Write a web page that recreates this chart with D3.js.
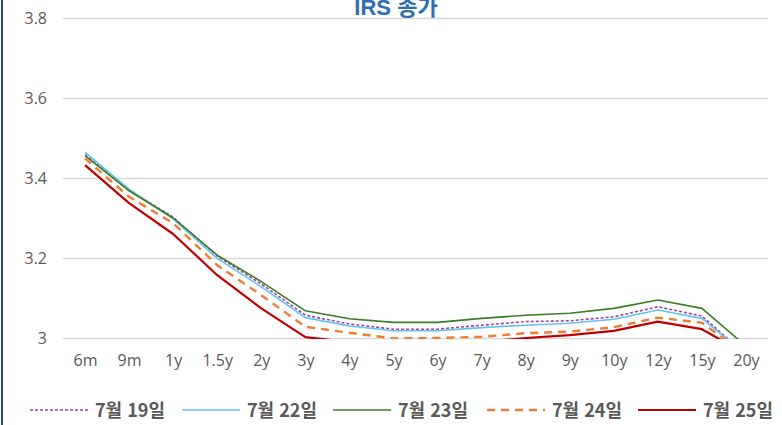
<!DOCTYPE html>
<html lang="ko">
<head>
<meta charset="UTF-8">
<title>IRS 종가</title>
<style>
  body { margin: 0; background: #fff; }
  svg { display: block; }
  .grid line { stroke: #d9d9d9; stroke-width: 1.3; }
  .tick text { fill: #595959; font-family: "Open Sans", "Noto Sans", sans-serif; font-size: 16px; }
  .legend text { fill: #595959; font-family: "Noto Sans CJK KR", sans-serif; font-size: 18px; font-weight: bold; }
  .title { fill: #2e6db4; font-family: "Liberation Sans", "Noto Sans CJK KR", sans-serif; font-size: 22px; font-weight: bold; }
</style>
</head>
<body>
<svg></svg>
<script src="https://d3js.org/d3.v7.min.js"></script>
<script>
var tenors = ["6m", "9m", "1y", "1.5y", "2y", "3y", "4y", "5y", "6y", "7y", "8y", "9y", "10y", "12y", "15y", "20y"];
var yTicks = [3, 3.2, 3.4, 3.6, 3.8];

var jul19 = [3.458, 3.370, 3.302, 3.205, 3.135, 3.057, 3.035, 3.022, 3.022, 3.032, 3.041, 3.043, 3.053, 3.078, 3.055, 2.958];
var jul22 = [3.464, 3.372, 3.298, 3.199, 3.128, 3.051, 3.030, 3.018, 3.018, 3.026, 3.032, 3.037, 3.047, 3.070, 3.049, 2.959];
var jul23 = [3.456, 3.368, 3.300, 3.207, 3.141, 3.068, 3.048, 3.039, 3.039, 3.049, 3.057, 3.062, 3.074, 3.095, 3.074, 2.980];
var jul24 = [3.449, 3.353, 3.287, 3.182, 3.107, 3.028, 3.013, 2.999, 3.000, 3.003, 3.012, 3.016, 3.027, 3.051, 3.038, 2.959];
var jul25 = [3.432, 3.337, 3.260, 3.157, 3.074, 3.002, 2.990, 2.985, 2.985, 2.990, 3.000, 3.007, 3.018, 3.041, 3.022, 2.960];

var series = [
  { name: "7월 19일", values: jul19, color: "#a040a8", width: 1.6, dash: "3,2" },
  { name: "7월 22일", values: jul22, color: "#5ec4f2", width: 1.6, dash: null },
  { name: "7월 23일", values: jul23, color: "#3b7d23", width: 1.6, dash: null },
  { name: "7월 24일", values: jul24, color: "#ed7d31", width: 2.4, dash: "8,6" },
  { name: "7월 25일", values: jul25, color: "#c00000", width: 2.2, dash: null }
];

var width = 782, height = 425;
var svg = d3.select("svg").attr("width", width).attr("height", height);

var plotL = 63, plotR = 768, plotT = 18, plotB = 338;

var x = d3.scalePoint().domain(tenors).range([plotL, plotR]).padding(0.5);
var y = d3.scaleLinear().domain([3, 3.8]).range([plotB, plotT]);

// left border
svg.append("line")
  .attr("x1", 2).attr("x2", 2).attr("y1", 0).attr("y2", height)
  .attr("stroke", "#1f4e79").attr("stroke-width", 2);

// gridlines + y labels
var yAxis = svg.append("g")
  .attr("class", "grid")
  .attr("transform", "translate(" + plotL + ",0)")
  .call(d3.axisLeft(y).tickValues(yTicks).tickSize(-(plotR - plotL)).tickPadding(16)
    .tickFormat(function (d) { return d === 3 ? "3" : d3.format(".1f")(d); }));
yAxis.select(".domain").remove();

// x labels
var xAxis = svg.append("g")
  .attr("transform", "translate(0," + plotB + ")")
  .call(d3.axisBottom(x).tickSize(0).tickPadding(17));
xAxis.select(".domain").remove();

// title
svg.append("text").attr("class", "title")
  .attr("x", 396).attr("y", 15).attr("text-anchor", "middle")
  .text("IRS 종가");

// clip lines to plot area
svg.append("clipPath").attr("id", "plot")
  .append("rect").attr("x", plotL).attr("y", 0).attr("width", plotR - plotL).attr("height", plotB + 1);

var line = d3.line()
  .x(function (d, i) { return x(tenors[i]); })
  .y(function (d) { return y(d); });

svg.append("g").attr("clip-path", "url(#plot)")
  .selectAll("path")
  .data(series)
  .enter()
  .append("path")
  .attr("fill", "none")
  .attr("stroke", function (d) { return d.color; })
  .attr("stroke-width", function (d) { return d.width; })
  .attr("stroke-dasharray", function (d) { return d.dash; })
  .attr("stroke-linejoin", "round")
  .attr("d", function (d) { return line(d.values); });

// legend
var legendX = [30, 182, 333, 487, 638];
var lg = svg.append("g").attr("class", "legend");
series.forEach(function (s, i) {
  var g = lg.append("g").attr("transform", "translate(" + legendX[i] + ",410)");
  g.append("line")
    .attr("x1", 0).attr("x2", 58).attr("y1", 0).attr("y2", 0)
    .attr("stroke", s.color)
    .attr("stroke-width", s.width)
    .attr("stroke-dasharray", s.dash);
  g.append("text").attr("x", 65).attr("y", 6.5).text(s.name);
});
</script>
</body>
</html>
